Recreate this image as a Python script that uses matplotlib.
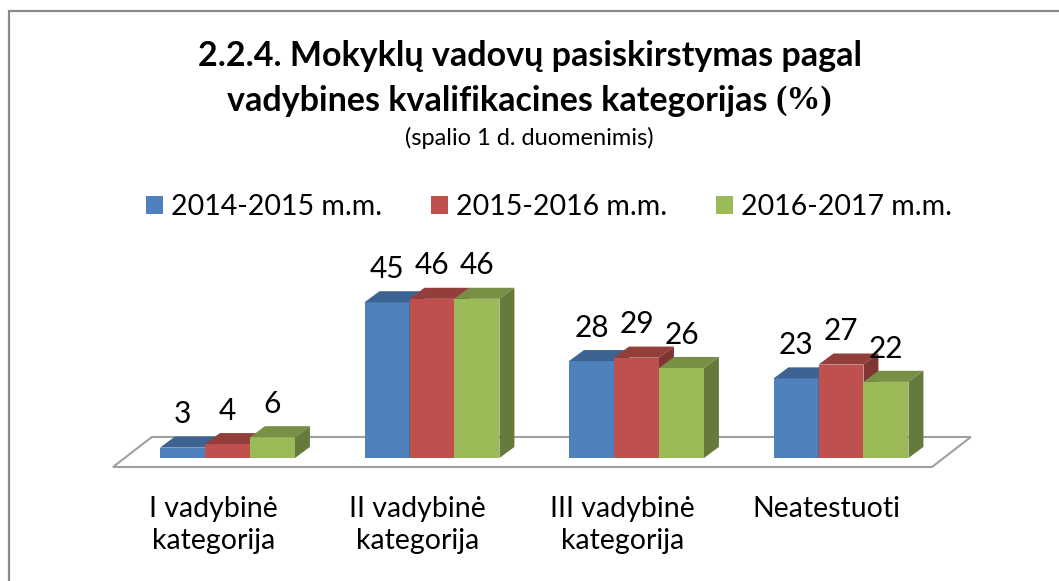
import matplotlib.pyplot as plt
from matplotlib.patches import Polygon, Patch, Rectangle

categories = ["I vadybinė\nkategorija", "II vadybinė\nkategorija",
              "III vadybinė\nkategorija", "Neatestuoti"]
series = ["2014-2015 m.m.", "2015-2016 m.m.", "2016-2017 m.m."]
v2014 = [3, 45, 28, 23]
v2015 = [4, 46, 29, 27]
v2016 = [6, 46, 26, 22]
values = [v2014, v2015, v2016]
colors = ["#4F81BD", "#C0504D", "#9BBB59"]

plt.rcParams['font.family'] = ['Lato', 'DejaVu Sans']


def shade(c, f):
    c = c.lstrip('#')
    rgb = [int(c[i:i + 2], 16) / 255 for i in (0, 2, 4)]
    return tuple(x * f for x in rgb)


fig = plt.figure(figsize=(10.59, 5.81), dpi=100)
ax = fig.add_axes([0, 0, 1, 1])
ax.set_xlim(-1.1125, 4.066)
ax.set_ylim(-35.55, 132.37)
ax.axis('off')

# outer frame (only left/top visible)
fig.patches.append(Rectangle((8.5 / 1059, -0.1), 1.2, 1 - 10.5 / 581 + 0.1,
                             transform=fig.transFigure, fill=False,
                             edgecolor='#8a8a8a', linewidth=1.6))

bw = 0.22          # bar width
ddx, ddy = 0.073, 3.2   # bar depth offset
n = len(categories)

# floor
fdx, fdy = 0.19, 8.67
fl, fr = -0.56, 3.445
fy = -2.6
floor = Polygon([(fl, fy), (fr, fy), (fr + fdx, fy + fdy), (fl + fdx, fy + fdy)],
                closed=True, facecolor='white', edgecolor='#a0a0a0', lw=1.5, zorder=1)
ax.add_patch(floor)

for i in range(n):
    for s, vals in enumerate(values):
        v = vals[i]
        x0 = i + (s - 1) * bw - bw / 2
        x1 = x0 + bw
        c = colors[s]
        z = 2 + s
        ax.bar(x0 + bw / 2, v, width=bw, color=c, zorder=z, linewidth=0)
        top = Polygon([(x0, v), (x1, v), (x1 + ddx, v + ddy), (x0 + ddx, v + ddy)],
                      closed=True, facecolor=shade(c, 0.77), lw=0, zorder=z)
        side = Polygon([(x1, 0), (x1 + ddx, ddy), (x1 + ddx, v + ddy), (x1, v)],
                       closed=True, facecolor=shade(c, 0.66), lw=0, zorder=z)
        ax.add_patch(top)
        ax.add_patch(side)
        ax.text(x0 + bw / 2, v + ddy + 2.4, str(v), ha='center', va='bottom',
                fontsize=21.5, color='black', zorder=10)

for i, lab in enumerate(categories):
    ax.text(i - 0.07, -11.0, lab, ha='center', va='top', fontsize=20.5,
            linespacing=1.27, multialignment='center')

# title
fig.text(0.5, 1 - 56 / 581, "2.2.4. Mokyklų vadovų pasiskirstymas pagal",
         ha='center', va='center', fontsize=24.5, fontweight='bold')
fig.canvas.draw()
r = fig.canvas.get_renderer()
t1 = fig.text(0, 1 - 101 / 581, "vadybines kvalifikacines kategorijas ",
              ha='left', va='center', fontsize=24.5, fontweight='bold')
t2 = fig.text(0, 1 - 101 / 581, "(%)", ha='left', va='center', fontsize=24.5,
              fontweight='bold', family='Liberation Serif')
w1 = t1.get_window_extent(r).width / 1059
w2 = t2.get_window_extent(r).width / 1059
start = 0.5 - (w1 + w2) / 2
t1.set_x(start)
t2.set_x(start + w1)
fig.text(0.5, 1 - 138 / 581, "(spalio 1 d. duomenimis)", ha='center', va='center',
         fontsize=17)

handles = [Patch(facecolor=c, edgecolor='none') for c in colors]
fig.legend(handles, series, loc='center', bbox_to_anchor=(549 / 1059, 1 - 207 / 581),
           ncol=3, frameon=False, fontsize=20.5, handlelength=0.6, handleheight=0.6,
           handletextpad=0.3, columnspacing=1.7, borderpad=0)

fig.savefig('out.png', dpi=100)
